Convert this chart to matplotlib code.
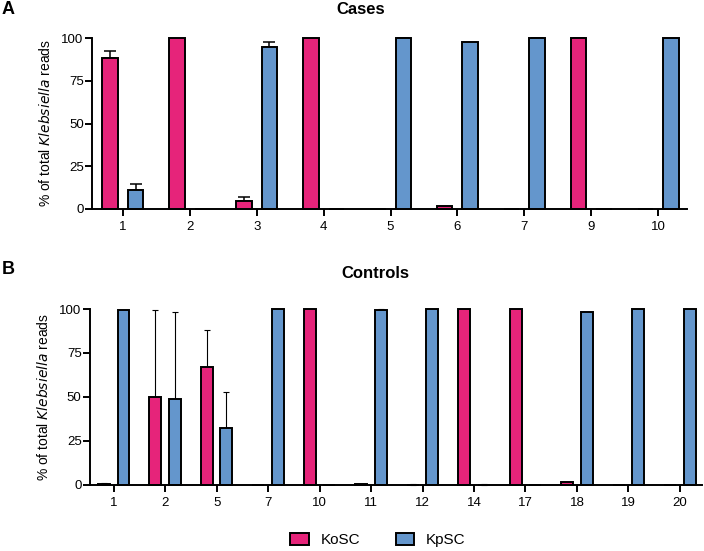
import matplotlib
matplotlib.use("Agg")
import matplotlib.pyplot as plt
import numpy as np
from matplotlib.patches import Patch

plt.rcParams['font.family'] = ['Liberation Sans', 'DejaVu Sans']

# Panel A: cases
cases = ['1', '2', '3', '4', '5', '6', '7', '9', '10']
cases_ko = [88.5, 100, 4.5, 100, 0, 1.6, 0, 100, 0]
cases_ko_err = [3.7, 0, 2.8, 0, 0, 0, 0, 0.3, 0]
cases_kp = [10.9, 0, 94.7, 0, 100, 97.5, 100, 0, 100]
cases_kp_err = [3.8, 0, 3.0, 0, 0.3, 0, 0.3, 0, 0]

# Panel B: controls
controls = ['1', '2', '5', '7', '10', '11', '12', '14', '17', '18', '19', '20']
ctrl_ko = [0.8, 50.2, 67.3, 0, 100, 0.5, 0.2, 99.8, 99.8, 1.5, 0, 0]
ctrl_ko_err = [0.5, 49.0, 20.7, 0, 0.2, 0.3, 0.1, 0.3, 0.3, 0, 0, 0]
ctrl_kp = [99.2, 49.0, 32.1, 100, 0, 99.4, 99.8, 0.2, 0, 98.1, 100, 100]
ctrl_kp_err = [0.5, 49.1, 20.8, 0.2, 0, 0.5, 0.2, 0.1, 0, 0, 0, 0]

KO_COL = '#E6247A'
KP_COL = '#6496CC'
width = 0.23
offset = 0.19
LW = 1.4


def draw_panel(ax, labels, ko, ko_err, kp, kp_err, elw, cap):
    x = np.arange(len(labels))
    for xs, vals, errs, col in [(x - offset, ko, ko_err, KO_COL),
                                (x + offset, kp, kp_err, KP_COL)]:
        ax.bar(xs, vals, width=width, color=col, edgecolor='black',
               linewidth=LW, clip_on=False, zorder=2)
        vals = np.array(vals)
        errs = np.array(errs)
        m = errs > 0
        ax.errorbar(xs[m], vals[m], yerr=[np.zeros(m.sum()), errs[m]],
                    fmt='none', ecolor='black', elinewidth=elw,
                    capsize=cap, capthick=elw, clip_on=False, zorder=1)
    ax.set_xticks(x)
    ax.set_xticklabels(labels, fontsize=9.5)
    ax.set_xlim(-0.46, len(labels) - 1 + 0.43)
    ax.set_ylim(0, 100)
    ax.set_yticks([0, 25, 50, 75, 100])
    ax.tick_params(axis='y', labelsize=9.5, width=LW, length=5, pad=1)
    ax.tick_params(axis='x', width=LW, length=5, pad=4)
    for s in ['top', 'right']:
        ax.spines[s].set_visible(False)
    for s in ['left', 'bottom']:
        ax.spines[s].set_linewidth(LW)
    ax.set_ylabel('% of total $\\it{Klebsiella}$ reads', fontsize=10, labelpad=6)


fig = plt.figure(figsize=(7.04, 5.51), dpi=100)
axA = fig.add_axes([0.1307, 0.6207, 0.8452, 0.3103])
axB = fig.add_axes([0.1278, 0.1198, 0.8694, 0.3194])

draw_panel(axA, cases, cases_ko, cases_ko_err, cases_kp, cases_kp_err, 1.1, 4.5)
draw_panel(axB, controls, ctrl_ko, ctrl_ko_err, ctrl_kp, ctrl_kp_err, 0.8, 2.5)

fig.text(361 / 704, 1 - 9 / 551, 'Cases', ha='center', va='center',
         fontsize=12, fontweight='bold')
fig.text(375 / 704, 1 - 273 / 551, 'Controls', ha='center', va='center',
         fontsize=12, fontweight='bold')
fig.text(2 / 704, 1 - 10 / 551, 'A', ha='left', va='center',
         fontsize=13, fontweight='bold')
fig.text(2 / 704, 1 - 270 / 551, 'B', ha='left', va='center',
         fontsize=13, fontweight='bold')

handles = [Patch(facecolor=KO_COL, edgecolor='black', linewidth=LW, label='KoSC'),
           Patch(facecolor=KP_COL, edgecolor='black', linewidth=LW, label='KpSC')]
fig.legend(handles=handles, loc='center', bbox_to_anchor=(378 / 704, 1 - 540 / 551),
           ncol=2, frameon=False, fontsize=11, handlelength=1.2, handleheight=0.8,
           handletextpad=0.8, columnspacing=2.3)

fig.savefig('out.png', dpi=100)
